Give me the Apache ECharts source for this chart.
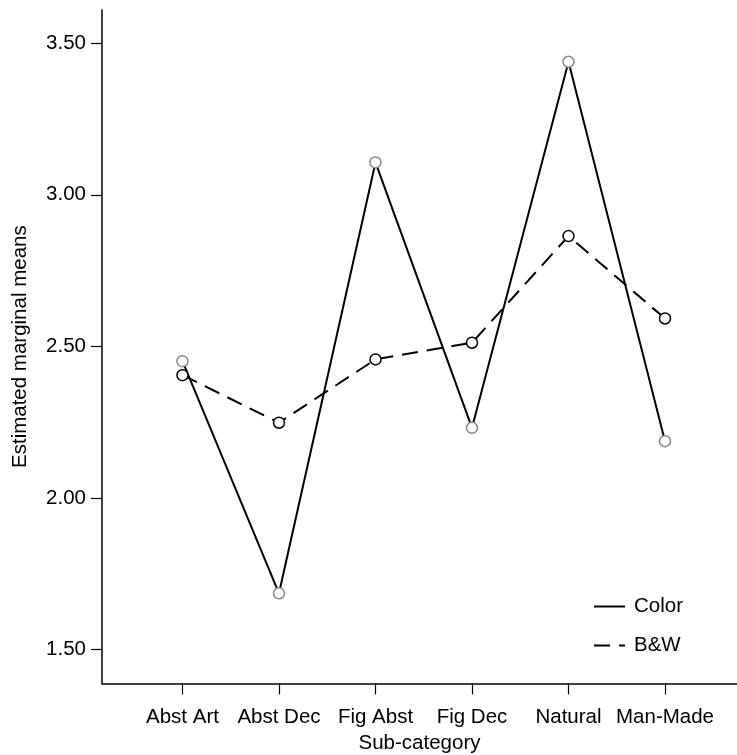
<!DOCTYPE html>
<html><head><meta charset="utf-8">
<script src="https://cdn.jsdelivr.net/npm/echarts@6/dist/echarts.min.js"></script>
<style>html,body{margin:0;padding:0;background:#fff}#c{width:737px;height:755px}</style>
</head><body><div id="c"></div>
<script>
const categories = ['Abst Art', 'Abst Dec', 'Fig Abst', 'Fig Dec', 'Natural', 'Man-Made'];
const colorValues = [2.451, 1.685, 3.107, 2.231, 3.439, 2.187];
const bwValues = [2.405, 2.248, 2.457, 2.512, 2.864, 2.592];
const yTickValues = [1.5, 2.0, 2.5, 3.0, 3.5];
const xTickValues = categories.map((c, i) => i);
const seriesNames = ['Color', 'B&W'];

const FONT = 'Liberation Sans';
const FS = 20.5;
const chart = echarts.init(document.getElementById('c'), null, {renderer: 'canvas'});
chart.setOption({
  animation: false,
  backgroundColor: '#fff',
  textStyle: {fontFamily: FONT, color: '#000'},
  grid: {left: 102, right: 0, top: 10, bottom: 71.7, containLabel: false, outerBoundsMode: 'none'},
  xAxis: {
    type: 'value', min: -0.834, max: 5.746,
    name: 'Sub-category', nameLocation: 'middle', nameGap: 49,
    nameTextStyle: {fontSize: FS, color: '#000', fontFamily: FONT},
    splitLine: {show: false},
    axisLine: {show: true, onZero: false, lineStyle: {color: '#000', width: 1.5}},
    axisTick: {show: true, customValues: xTickValues, length: 11, lineStyle: {color: '#000', width: 1.2}},
    axisLabel: {customValues: xTickValues, formatter: v => categories[Math.round(v)], fontSize: FS, color: '#000', margin: 24, fontFamily: FONT}
  },
  yAxis: {
    type: 'value', min: 1.388, max: 3.61,
    name: 'Estimated marginal means', nameLocation: 'middle', nameGap: 71,
    nameTextStyle: {fontSize: FS, color: '#000', fontFamily: FONT},
    splitLine: {show: false},
    axisLine: {show: true, onZero: false, lineStyle: {color: '#000', width: 1.5}},
    axisTick: {show: true, customValues: yTickValues, length: 11, lineStyle: {color: '#000', width: 1.2}},
    axisLabel: {customValues: yTickValues, formatter: v => v.toFixed(2), fontSize: FS, color: '#000', margin: 16, fontFamily: FONT}
  },
  legend: {
    orient: 'vertical', left: 588, top: 591,
    itemWidth: 31, itemHeight: 14, itemGap: 18,
    itemStyle: {opacity: 0},
    textStyle: {fontSize: FS, color: '#000', fontFamily: FONT, padding: [0, 0, 0, 4]},
    data: seriesNames
  },
  series: [
    {
      name: seriesNames[0], type: 'line',
      data: colorValues.map((v, i) => [i, v]),
      symbol: 'circle', symbolSize: 11,
      lineStyle: {color: '#000', width: 2},
      itemStyle: {color: '#fff', borderColor: '#888', borderWidth: 1.5}
    },
    {
      name: seriesNames[1], type: 'line',
      data: bwValues.map((v, i) => [i, v]),
      symbol: 'circle', symbolSize: 11,
      lineStyle: {color: '#000', width: 2, type: [16, 9]},
      itemStyle: {color: '#fff', borderColor: '#000', borderWidth: 1.5}
    }
  ]
});
</script>
</body></html>
